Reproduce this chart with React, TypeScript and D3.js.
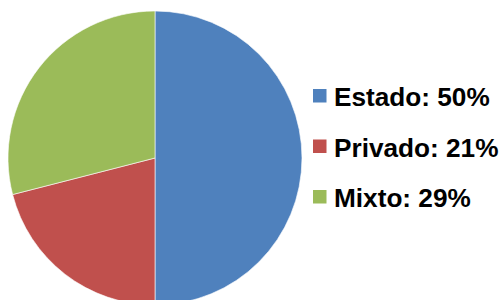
import React from "react";
import * as d3 from "d3";

const categories = ["Estado", "Privado", "Mixto"];
const values = [50, 21, 29];
const colors = ["#4F81BD", "#C0504D", "#9BBB59"];

export default function App() {
  const width = 502, height = 300;
  const cx = 155, cy = 158, r = 147;
  const pie = d3.pie<number>().sort(null).value((d) => d)(values);
  const arc = d3.arc<d3.PieArcDatum<number>>().innerRadius(0).outerRadius(r);
  const legendY = d3.scalePoint<string>().domain(categories).range([106, 207]);
  return (
    <svg width={width} height={height} style={{ position: "absolute", left: 0, top: 0 }}>
      <rect width={width} height={height} fill="#fff" />
      <g transform={`translate(${cx},${cy})`}>
        {pie.map((p, i) => (
          <path key={i} d={arc(p) || ""} fill={colors[i]} stroke="#fff" strokeWidth={0.6} />
        ))}
      </g>
      {categories.map((c, i) => {
        const y = legendY(c) as number;
        return (
          <g key={c}>
            <rect x={313} y={y - 17} width={13.5} height={13.5} fill={colors[i]} />
            <text x={334} y={y} fontFamily="Liberation Sans, Arial, sans-serif" fontWeight="bold" fontSize={26.2} fill="#000">
              {`${c}: ${values[i]}%`}
            </text>
          </g>
        );
      })}
    </svg>
  );
}
